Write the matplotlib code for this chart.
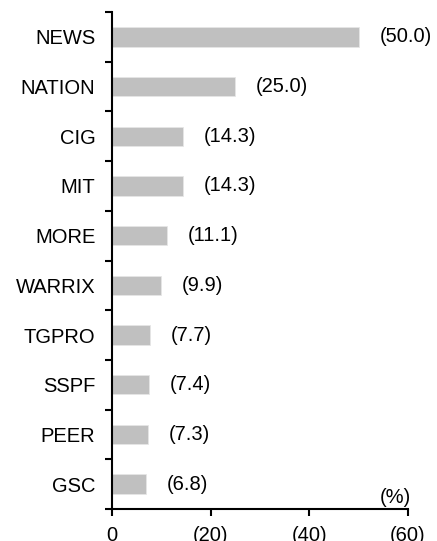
import matplotlib
matplotlib.use("Agg")
import matplotlib.pyplot as plt
import numpy as np

categories = ["NEWS", "NATION", "CIG", "MIT", "MORE", "WARRIX", "TGPRO", "SSPF", "PEER", "GSC"]
values = [50.0, 25.0, 14.3, 14.3, 11.1, 9.9, 7.7, 7.4, 7.3, 6.8]
value_labels = ["(50.0)", "(25.0)", "(14.3)", "(14.3)", "(11.1)", "(9.9)", "(7.7)", "(7.4)", "(7.3)", "(6.8)"]
xticks = [0, 20, 40, 60]
xtick_labels = ["0", "(20)", "(40)", "(60)"]

plt.rcParams['font.family'] = ['Liberation Sans', 'DejaVu Sans']
FS = 14.5

fig = plt.figure(figsize=(4.37, 5.41), dpi=100)
ax = fig.add_axes([0.2563, 0.0591, 0.6773, 0.9187])

n = len(categories)
y = np.arange(n)
ax.barh(y, values, height=0.39, color="#c0c0c0", edgecolor="#e6e6e6", linewidth=0.6)
ax.set_ylim(n - 0.5, -0.5)
ax.set_xlim(0, 60)

for yi, v, lab in zip(y, values, value_labels):
    ax.annotate(lab, xy=(v, yi), xytext=(15, 0), textcoords="offset points",
                ha="left", va="center", fontsize=FS)

ax.set_yticks(y)
ax.set_yticklabels(categories, fontsize=FS)
ax.tick_params(axis="y", which="major", length=0, pad=12)
ax.set_yticks(np.arange(-0.5, n, 1.0), minor=True)
ax.tick_params(axis="y", which="minor", length=5, width=1.5, direction="out")

ax.set_xticks(xticks)
ax.set_xticklabels(xtick_labels, fontsize=FS)
ax.tick_params(axis="x", length=5, width=1.5, direction="out", pad=7)

for s in ["top", "right"]:
    ax.spines[s].set_visible(False)
for s in ["left", "bottom"]:
    ax.spines[s].set_linewidth(1.5)

ax.text(1.01, 0.005, "(%)", transform=ax.transAxes, ha="right", va="bottom", fontsize=FS)

fig.savefig("out.png", dpi=100)
